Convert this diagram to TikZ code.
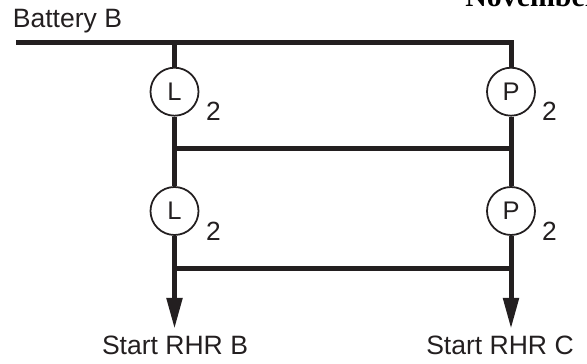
\documentclass[tikz,border=0pt]{standalone}
\usepackage{fontspec}
\setmainfont{Liberation Sans}
\newfontfamily\titlefont{Liberation Serif}
\usetikzlibrary{arrows.meta, positioning}
\definecolor{inkblack}{RGB}{35,31,32}

\begin{document}
\begin{tikzpicture}[
    % Circle with a letter
    contact/.style={
        circle,
        draw=inkblack,
        line width=1pt,
        fill=white,
        inner sep=0pt,
        minimum size=0.96cm,
        text=inkblack,
        font=\fontsize{14.5}{17}\selectfont
    },
    % Heavy line
    wire/.style={
        draw=inkblack,
        line width=0.1cm
    },
    % Heavy line ending in a long head
    feed/.style={
        wire,
        -{Triangle[length=0.62cm, width=0.3cm]}
    },
    % Plain text
    caption/.style={
        text=inkblack,
        inner sep=0pt,
        font=\fontsize{15.1}{18}\selectfont
    },
    count/.style={
        caption,
        font=\fontsize{15}{18}\selectfont
    }
]

\path[use as bounding box, clip] (0, 0) rectangle (11.74, 7.28);

% === Text at the top ===
\node[caption, anchor=base west] (battery) at (0.25, 6.72) {Battery B};
\node[text=black, inner sep=0pt, anchor=base west, font=\titlefont\bfseries\fontsize{17}{20}\selectfont]
    (month) at (9.3, 7.14) {November};

% === Bus end points ===
\coordinate (busW) at (0.32, 6.426);
\coordinate (busL) at (3.49, 6.426);
\coordinate (busP) at (10.22, 6.426);

% === Left column ===
\node[contact] (contactL1) at (3.49, 5.446) {L};
\coordinate (barL1) at (3.49, 4.3);
\node[contact] (contactL2) at (3.49, 3.06) {L};
\coordinate (barL2) at (3.49, 1.9);
\coordinate (tipL) at (3.49, 0.7);

% === Right column ===
\node[contact] (contactP1) at (10.22, 5.446) {P};
\coordinate (barP1) at (10.22, 4.3);
\node[contact] (contactP2) at (10.22, 3.06) {P};
\coordinate (barP2) at (10.22, 1.9);
\coordinate (tipP) at (10.22, 0.7);

% === Counts ===
\node[count] (countL1) at (4.27, 5.06) {2};
\node[count] (countP1) at (10.99, 5.06) {2};
\node[count] (countL2) at (4.27, 2.66) {2};
\node[count] (countP2) at (10.99, 2.66) {2};

% === Lower text ===
\node[caption, anchor=base] (startB) at (3.5, 0.18) {Start RHR B};
\node[caption, anchor=base] (startC) at (10, 0.18) {Start RHR C};

% === Wires ===
\draw[wire, line join=miter] (busW) -- (busP) -- (contactP1);
\draw[wire] (busL) -- (contactL1);
\draw[wire] (contactL1) -- (contactL2);
\draw[wire] (contactP1) -- (contactP2);
\draw[wire] (barL1) -- (barP1);
\draw[wire] (barL2) -- (barP2);
\draw[feed] (contactL2) -- (tipL);
\draw[feed] (contactP2) -- (tipP);

\end{tikzpicture}
\end{document}
